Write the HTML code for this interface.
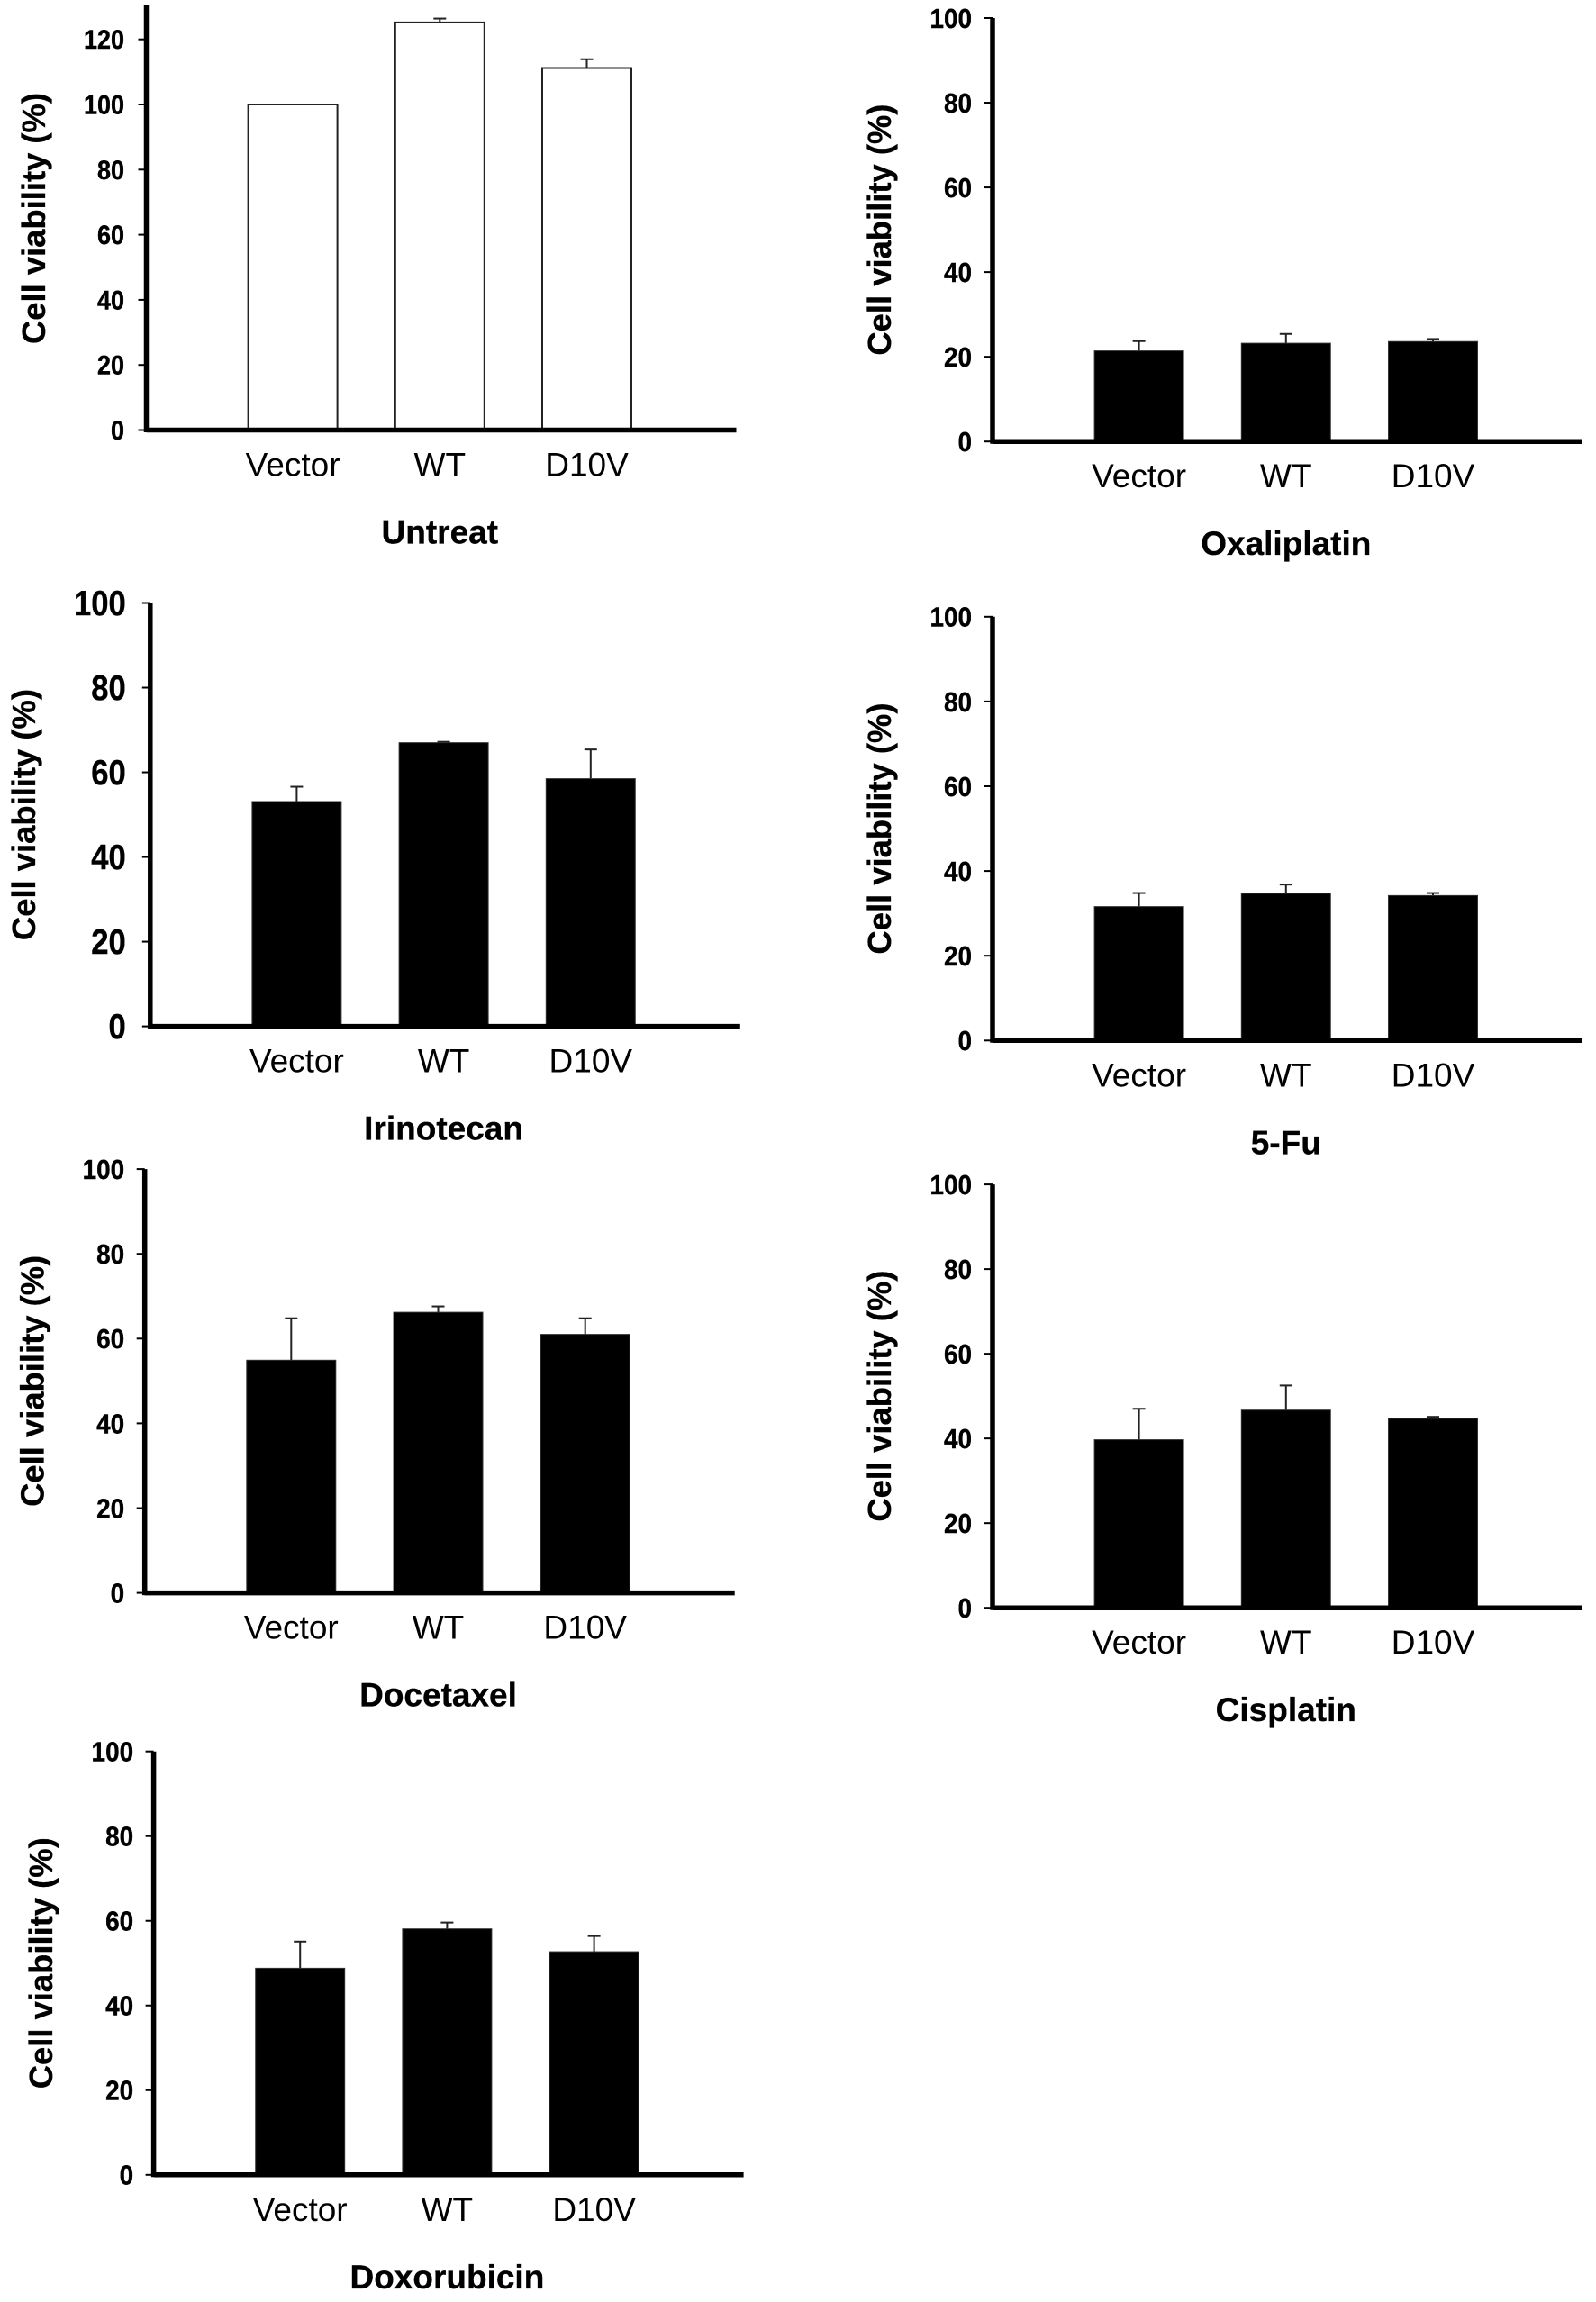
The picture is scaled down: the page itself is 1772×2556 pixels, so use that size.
<!DOCTYPE html>
<html lang="en">
<head>
<meta charset="utf-8">
<title>Cell viability by treatment</title>
<style>
html,body{margin:0;padding:0;background:#fff;}
svg{display:block;}
text{font-family:"Liberation Sans",Arial,sans-serif;fill:#000;}
</style>
</head>
<body>
<svg id="figure" xmlns="http://www.w3.org/2000/svg" width="1772" height="2556" viewBox="0 0 1772 2556"></svg>
<script>
// ---- Data ----
const categories = ['Vector', 'WT', 'D10V'];
const ticks120 = [0, 20, 40, 60, 80, 100, 120];
const ticks100 = [0, 20, 40, 60, 80, 100];

const untreatValues = [100, 125.2, 111.2];
const untreatErrorTops = [100, 126.4, 113.9];
const oxaliplatinValues = [21.4, 23.2, 23.6];
const oxaliplatinErrorTops = [23.7, 25.4, 24.2];
const irinotecanValues = [53.1, 67, 58.5];
const irinotecanErrorTops = [56.6, 67.2, 65.4];
const fluValues = [31.6, 34.7, 34.2];
const fluErrorTops = [34.8, 36.8, 34.8];
const docetaxelValues = [54.9, 66.2, 61];
const docetaxelErrorTops = [64.8, 67.6, 64.8];
const cisplatinValues = [39.7, 46.7, 44.7];
const cisplatinErrorTops = [47, 52.5, 45.1];
const doxorubicinValues = [48.8, 58.1, 52.7];
const doxorubicinErrorTops = [55.1, 59.6, 56.4];

// ---- Panel layout ----
const panels = [
  {id:'untreat', title:'Untreat', values:untreatValues, errs:untreatErrorTops, ticks:ticks120, x0:162.5, y0:477.5, yMaxPx:43.7, axisTop:5, fill:'#fff', tickFont:30, tickGap:24.5, titleGap:112.5},
  {id:'oxaliplatin', title:'Oxaliplatin', values:oxaliplatinValues, errs:oxaliplatinErrorTops, ticks:ticks100, x0:1102, y0:490.2, yMaxPx:20, axisTop:20, fill:'#000', tickFont:31, tickGap:23, titleGap:113},
  {id:'irinotecan', title:'Irinotecan', values:irinotecanValues, errs:irinotecanErrorTops, ticks:ticks100, x0:166.8, y0:1139.6, yMaxPx:669.5, axisTop:669.5, fill:'#000', tickFont:38.5, tickGap:27, titleGap:128},
  {id:'5-fu', title:'5-Fu', values:fluValues, errs:fluErrorTops, ticks:ticks100, x0:1102, y0:1155.3, yMaxPx:684.8, axisTop:684.8, fill:'#000', tickFont:31, tickGap:23, titleGap:113},
  {id:'docetaxel', title:'Docetaxel', values:docetaxelValues, errs:docetaxelErrorTops, ticks:ticks100, x0:160.7, y0:1768.6, yMaxPx:1298.1, axisTop:1298.1, fill:'#000', tickFont:31, tickGap:22.5, titleGap:112},
  {id:'cisplatin', title:'Cisplatin', values:cisplatinValues, errs:cisplatinErrorTops, ticks:ticks100, x0:1102, y0:1785.2, yMaxPx:1315.1, axisTop:1315.1, fill:'#000', tickFont:31, tickGap:23, titleGap:113},
  {id:'doxorubicin', title:'Doxorubicin', values:doxorubicinValues, errs:doxorubicinErrorTops, ticks:ticks100, x0:170.6, y0:2414.8, yMaxPx:1944.7, axisTop:1944.7, fill:'#000', tickFont:31, tickGap:22.5, titleGap:112.5}
];

const NS = 'http://www.w3.org/2000/svg';
const BAR_WIDTH = 99;
const BAR_STEP = 163.2;
const AXIS_LENGTH = 655;
const TICK_SQUEEZE = 0.9;
const figure = document.getElementById('figure');

function el(parent, tag, attrs, content) {
  const node = document.createElementNS(NS, tag);
  for (const key in attrs) node.setAttribute(key, attrs[key]);
  if (content !== undefined) node.textContent = content;
  parent.appendChild(node);
  return node;
}

panels.forEach(function (p) {
  const topTick = p.ticks[p.ticks.length - 1];
  const yScale = function (v) { return p.y0 - v * (p.y0 - p.yMaxPx) / topTick; };
  const xScale = function (i) { return p.x0 + BAR_STEP * (i + 1) - 0.6; };

  const group = el(figure, 'g', {});
  
  

  // error bars sit behind the bars
  p.values.forEach(function (v, i) {
    const cx = xScale(i);
    if (p.errs[i] <= v) return;
    const stem = el(group, 'line', {x1:cx, x2:cx, y1:yScale(v), y2:yScale(p.errs[i]), stroke:'#222', 'stroke-width':2});
    
    
    const cap = el(group, 'line', {x1:cx - 7, x2:cx + 7, y1:yScale(p.errs[i]), y2:yScale(p.errs[i]), stroke:'#222', 'stroke-width':2});
    
    
  });

  // bars
  p.values.forEach(function (v, i) {
    const cx = xScale(i);
    const bar = el(group, 'rect', {x:cx - BAR_WIDTH / 2, y:yScale(v), width:BAR_WIDTH, height:p.y0 - yScale(v), fill:p.fill, stroke:p.fill === '#fff' ? '#222' : '#333', 'stroke-width':p.fill === '#fff' ? 2 : 1});
    
    
  });

  // y ticks and tick labels
  p.ticks.forEach(function (t) {
    const y = yScale(t);
    const tick = el(group, 'line', {x1:p.x0 - 9, x2:p.x0, y1:y, y2:y, stroke:'#000', 'stroke-width':2});
    
    
    const label = el(group, 'text', {transform:'translate(' + (p.x0 - p.tickGap) + ' ' + (y + p.tickFont * 0.35) + ') scale(' + TICK_SQUEEZE + ' 1)', 'text-anchor':'end', 'font-size':p.tickFont, 'font-weight':'bold', stroke:'#000', 'stroke-width':0.4}, String(t));
    
    
  });

  // axes
  const yAxis = el(group, 'line', {x1:p.x0, x2:p.x0, y1:p.axisTop, y2:p.y0 + 2.5, stroke:'#000', 'stroke-width':5.5});
  
  
  const xAxis = el(group, 'line', {x1:p.x0, x2:p.x0 + AXIS_LENGTH, y1:p.y0, y2:p.y0, stroke:'#000', 'stroke-width':5.5});
  
  

  // category labels
  categories.forEach(function (c, i) {
    const label = el(group, 'text', {x:xScale(i), y:p.y0 + 51, 'text-anchor':'middle', 'font-size':37}, c);
    
    
  });

  // y axis title
  const yMid = (p.y0 + p.yMaxPx) / 2;
  const yTitle = el(group, 'text', {transform:'translate(' + (p.x0 - p.titleGap) + ' ' + (p.id === 'untreat' ? 242.5 : yMid) + ') rotate(-90)', 'text-anchor':'middle', 'font-size':36.4, 'font-weight':'bold', stroke:'#000', 'stroke-width':0.3}, 'Cell viability (%)');
  
  

  // panel title below axis
  const xTitle = el(group, 'text', {x:xScale(1), y:p.y0 + 126, 'text-anchor':'middle', 'font-size':37, 'font-weight':'bold', stroke:'#000', 'stroke-width':0.3}, p.title);
  
  
});
</script>
</body>
</html>
